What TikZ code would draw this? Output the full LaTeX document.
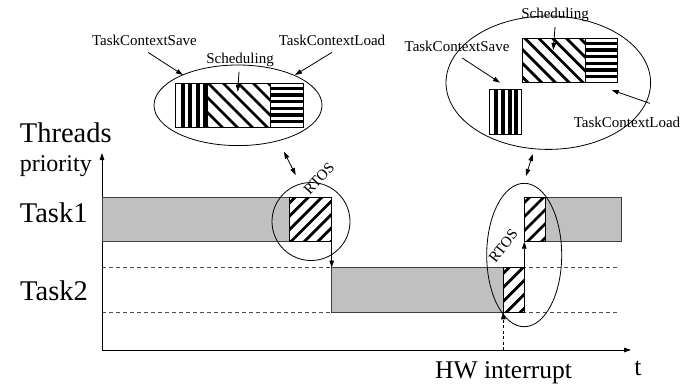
\documentclass[tikz,border=0pt]{standalone}
\usepackage{fontspec}
\setmainfont{Liberation Serif}
\usetikzlibrary{arrows.meta,shapes.geometric}
\definecolor{barfill}{HTML}{C0C0C0}

% hatched box, lines rising to the right: x1,y1,x2,y2,spacing,phase
\newcommand\hatchNE[6]{%
  \begin{scope}
    \clip (#1,#2) rectangle (#3,#4);
    \fill[white] (#1,#2) rectangle (#3,#4);
    \foreach \k in {-5,...,6}
      \draw[line width=2.8pt] ({#1+#6+\k*#5},{#4+5}) -- ++(70,-70);
  \end{scope}
  \draw[frame] (#1,#2) rectangle (#3,#4);}
% hatched box, lines falling to the right
\newcommand\hatchSE[6]{%
  \begin{scope}
    \clip (#1,#2) rectangle (#3,#4);
    \fill[white] (#1,#2) rectangle (#3,#4);
    \foreach \k in {-5,...,6}
      \draw[line width=2.8pt] ({#1+#6+\k*#5},{#2-5}) -- ++(70,70);
  \end{scope}
  \draw[frame] (#1,#2) rectangle (#3,#4);}

\begin{document}
\begin{tikzpicture}[x=1pt,y=-1pt,
  thinline/.style={line width=0.8pt},
  frame/.style={draw=black,line width=0.8pt},
  bar/.style={fill=barfill,draw=black!75,line width=0.8pt},
  tip/.style={-{Triangle[length=7pt,width=4.6pt]}},
  dtip/.style={{Triangle[length=7pt,width=4.6pt]}-{Triangle[length=7pt,width=4.6pt]}},
  small/.style={font=\fontsize{15}{17}\selectfont,inner sep=0pt},
  large/.style={font=\fontsize{28.5}{30}\selectfont,inner sep=0pt},
  medium/.style={font=\fontsize{24}{26}\selectfont,inner sep=0pt},
  axislbl/.style={font=\fontsize{25.5}{27}\selectfont,inner sep=0pt}]
\useasboundingbox (0,0) rectangle (693,384);

% ---- axes and guides ----
\coordinate (O) at (102,350);
\coordinate (ytop) at (102,153);
\coordinate (xend) at (631,350);
\draw[dashed,dash pattern=on 4pt off 3pt,black!70,thinline]
  (102,267.5) -- (620,267.5) (102,312.3) -- (620,312.3);
\draw[thinline,tip] (O) -- (ytop);
\draw[thinline,tip] (O) -- (xend);

% ---- task bars ----
\draw[bar] (102,197.3) rectangle (289.3,241.7);
\draw[bar] (331.7,267.5) rectangle (503.3,312.3);
\draw[bar] (545.7,197.3) rectangle (621.7,241.7);

% ---- RTOS slices ----
\hatchNE{289.3}{197.3}{331.7}{241.7}{13.4}{-3.5}
\hatchNE{503.3}{267.5}{524.3}{312.3}{14}{-2}
\hatchNE{524.3}{197.3}{545.7}{241.7}{14}{-2}

% ---- switches ----
\coordinate (sw1a) at (331.7,241.7);
\coordinate (sw1b) at (331.7,267.5);
\draw[thinline,tip] (sw1a) -- (sw1b);
\coordinate (sw2a) at (524.3,267.5);
\coordinate (sw2b) at (524.3,241.7);
\draw[thinline,tip] (sw2a) -- (sw2b);
\coordinate (irqa) at (503.3,350);
\coordinate (irqb) at (503.3,312.3);
\draw[thinline,dashed,dash pattern=on 3pt off 2.5pt,tip] (irqa) -- (irqb);

% ---- RTOS outlines ----
\node[circle,draw,thinline,minimum size=78pt,inner sep=0] (c1) at (311,221.5) {};
\node[ellipse,draw,thinline,minimum width=75pt,minimum height=143.4pt,inner sep=0] (c2) at (524.2,255) {};
\node[small,rotate=47] (rtos1) at (319,178.3) {RTOS};
\node[small,rotate=52] (rtos2) at (503.3,245.8) {RTOS};

% ---- left detail: sequential RTOS phases ----
\node[ellipse,draw,thinline,minimum width=168pt,minimum height=80.6pt,inner sep=0] (e1) at (238,105.3) {};
\fill[white] (175.7,83.3) rectangle (207.3,127.7);
\foreach \c in {182.7,190.2,197.7,205.0}
  \fill ({\c-1.85},83.3) rectangle ({\c+1.85},127.7);
\draw[frame] (175.7,83.3) rectangle (207.3,127.7);
\hatchSE{207.3}{83.3}{270}{127.7}{15}{-4}
\fill[white] (270,83.3) rectangle (303.3,127.7);
\foreach \k in {0,...,5}
  \fill (270,{88.5+6.6*\k-1.65}) rectangle (303.3,{88.5+6.6*\k+1.65});
\draw[frame] (270,83.3) rectangle (303.3,127.7);

\node[small,anchor=base] (lsave) at (144.5,45) {TaskContextSave};
\node[small,anchor=base] (lload) at (332,45) {TaskContextLoad};
\node[small,anchor=base] (lsched) at (240,63.3) {Scheduling};
\coordinate (lsaveT) at (183,75);
\coordinate (lloadT) at (295,75);
\coordinate (lschedT) at (237.7,91.7);
\draw[thinline,tip] ([shift={(3.5,7)}]lsave.south) -- (lsaveT);
\draw[thinline,tip] ([shift={(0,7)}]lload.south) -- (lloadT);
\draw[thinline,tip] ([shift={(-1,5)}]lsched.south) -- (lschedT);

% ---- right detail: split RTOS phases ----
\node[ellipse,draw,thinline,minimum width=204.6pt,minimum height=133.4pt,inner sep=0] (e2) at (548.3,82.7) {};
\fill[white] (489.3,89.3) rectangle (521.7,134);
\foreach \c in {496.2,503,509.7,516.3}
  \fill ({\c-2},89.3) rectangle ({\c+2},134);
\draw[frame] (489.3,89.3) rectangle (521.7,134);
\hatchSE{522.7}{38.3}{585}{82.7}{13.8}{-2.7}
\fill[white] (585,38.3) rectangle (617.3,82.7);
\foreach \k in {0,...,5}
  \fill (585,{43.5+6.6*\k-1.65}) rectangle (617.3,{43.5+6.6*\k+1.65});
\draw[frame] (585,38.3) rectangle (617.3,82.7);

\node[small,anchor=base] (rsave) at (457,51.5) {TaskContextSave};
\node[small,anchor=base] (rload) at (627,127) {TaskContextLoad};
\node[small,anchor=base] (rsched) at (555,18.5) {Scheduling};
\coordinate (rsaveT) at (500,82.7);
\coordinate (rloadT) at (611.7,90);
\coordinate (rschedT) at (553.3,50);
\draw[thinline,tip] ([shift={(5,6)}]rsave.south) -- (rsaveT);
\draw[thinline,tip] ([shift={(23,-13)}]rload.north) -- (rloadT);
\draw[thinline,tip] ([shift={(0,5)}]rsched.south) -- (rschedT);

% ---- links between detail views and RTOS slices ----
\coordinate (l1a) at (284,151.7);
\coordinate (l1b) at (295.7,175);
\draw[thinline,dtip] (l1a) -- (l1b);
\coordinate (l2a) at (532.7,154);
\coordinate (l2b) at (526,176);
\draw[thinline,dtip] (l2a) -- (l2b);

% ---- axis labels ----
\node[large,anchor=base] (thr) at (65.8,142.3) {Threads};
\node[medium,anchor=base] (prio) at (55.8,171) {priority};
\node[large,anchor=base] (task1) at (53.7,222.7) {Task1};
\node[large,anchor=base] (task2) at (54,300) {Task2};
\node[axislbl,anchor=base] (hw) at (503.5,378.3) {HW interrupt};
\node[axislbl,anchor=base] (tlbl) at (638,375) {t};
\end{tikzpicture}
\end{document}
